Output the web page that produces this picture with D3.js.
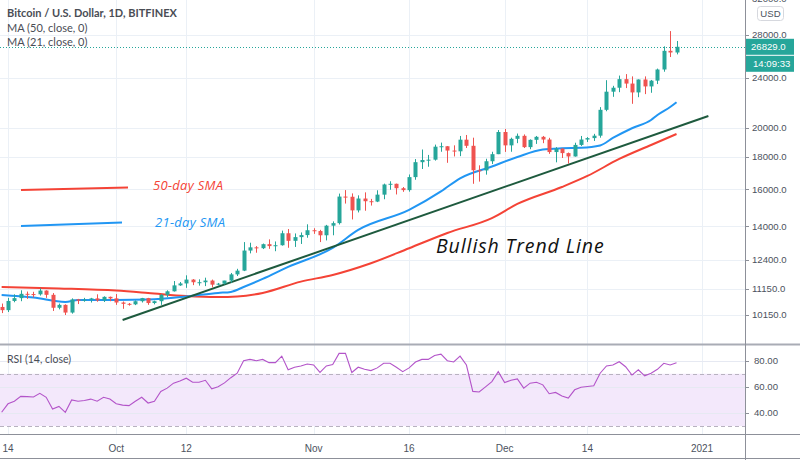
<!DOCTYPE html>
<html>
<head>
<meta charset="utf-8">
<script src="https://cdn.jsdelivr.net/npm/d3@7"></script>
<style>
  html, body { margin: 0; padding: 0; background: #fff; }
  svg { display: block; }
</style>
</head>
<body>
<svg id="chart" width="800" height="460"></svg>
<script>
// ---------------- DATA ----------------
const startDay = "2020-09-13";   // first candle
const endDay   = "2020-12-28";   // last candle (in progress)

const opens = [10450,10330,10680,10790,10960,10950,10940,11090,10920,10420,
10530,10240,10740,10690,10730,10780,10700,10840,10780,10620,
10570,10550,10670,10790,10600,10670,10920,11060,11300,11380,
11540,11430,11430,11500,11330,11370,11500,11760,11920,12820,
12970,12930,13120,13030,13070,13650,13280,13460,13560,13800,
13760,13550,14030,14160,15590,15580,14830,15480,15330,15310,
15700,16290,16330,16070,15960,16730,17660,17800,17820,18680,
18710,18420,18370,19160,18740,17150,17140,17720,18180,19700,
18770,19220,19430,18650,19150,19360,19170,18320,18550,18250,
18030,18800,19170,19270,19440,21350,22800,23130,23860,23480,
22740,23830,23240,23730,24710,26440,26280];

const highs = [10580,10800,10940,11100,11050,11040,11180,11100,10990,10580,
10550,10780,10760,10800,10800,10940,10860,10850,10950,10660,
10600,10700,10800,10800,10690,10950,11100,11480,11440,11720,
11560,11550,11620,11540,11400,11490,11820,12000,13220,13190,
13030,13150,13350,13250,13780,13860,13640,13690,14100,13900,
13820,14070,14250,15760,15960,15770,15660,15830,15460,15950,
16340,16480,16340,16140,16890,17860,18490,18130,18820,18960,
18720,18770,19420,19490,19300,17460,17880,18340,19840,19920,
19300,19590,19530,19180,19420,19420,19290,18650,18570,18290,
18950,19420,19340,19570,21560,23770,23290,24170,24300,24100,
23840,24100,23790,24790,26870,28400,27400];

const lows = [10220,10260,10630,10670,10760,10820,10890,10800,10300,10360,
10150,10200,10560,10650,10620,10650,10640,10670,10530,10380,
10500,10520,10620,10530,10550,10530,10830,11050,11280,11200,
11310,11290,11270,11220,11300,11340,11410,11690,11900,12690,
12720,12890,12900,12790,13050,12950,12990,13130,13430,13620,
13220,13300,13550,14090,15200,14350,14720,14810,15090,15280,
15440,15980,15710,15860,15870,16570,17230,17370,17760,18340,
17620,18030,18050,18590,16330,16460,16880,17540,18180,18330,
18340,18920,18590,18510,18870,18920,18200,17650,17930,17570,
18020,18730,19000,19070,19300,21240,22380,22760,23100,21820,
22350,22600,22710,23440,24510,25850,26100];

const closes = [10330,10680,10790,10960,10950,10940,11090,10920,10420,10530,
10240,10740,10690,10730,10780,10700,10840,10780,10620,10570,
10550,10670,10790,10600,10670,10920,11060,11300,11380,11540,
11430,11430,11500,11330,11370,11500,11760,11920,12820,12970,
12930,13120,13030,13070,13650,13280,13460,13560,13800,13760,
13550,14030,14160,15590,15580,14830,15480,15330,15310,15700,
16290,16330,16070,15960,16730,17660,17800,17820,18680,18710,
18420,18370,19160,18740,17150,17140,17720,18180,19700,18770,
19220,19430,18650,19150,19360,19170,18320,18550,18250,18030,
18800,19170,19270,19440,21350,22800,23130,23860,23480,22740,
23830,23240,23730,24710,26440,26280,26829];

// RSI(14) read per candle
const rsi = [40.5,47,49,52.7,52.5,52.2,55,52,43,45,
40.5,50,49,49.5,50.6,49,52,50.6,47,46,
45.6,49,52,47.6,49,56.5,59,62.8,64.5,66.6,
63.5,63.5,65,58.5,60,63,67,70.4,80,81,
80,81,78.5,78.5,83.5,73,75,76,77.5,76.7,
71,76,77,85.6,85.6,71,75,73.5,72.4,74.5,
78,78,75,71.6,74.5,79,81,81,84,85,
80,79,83.5,76.7,56.5,56,60,64,71.6,63.3,
65,66,59,62.8,63.5,61.5,54.7,55.7,53,51.4,
57.7,59.7,60.3,60.8,70.4,76,76.7,79.2,75.4,69,
73,68.4,70.4,73.4,78,76.7,78.5];

const ma21Idx = [0,5,10,12,18,23,29,34,36,38,41,45,52,56,64,69,72,77,81,85,88,91,94,96,99,102,103,105,106];
const ma21Val = [10917,10817,10643,10720,10720,10739,10856,10996,11036,11236,11567,12082,12942,13815,14855,15882,16660,17389,17996,18491,18573,18600,18760,19278,19970,20580,20956,21571,21950];

const ma50Idx = [0,9,18,23,29,34,37,41,47,52,58,64,70,77,81,88,92,97,102,106];
const ma50Val = [11236,11175,11088,10996,10875,10836,10856,10996,11455,11735,12244,12928,13664,14420,15180,16140,16800,17867,18797,19561];

// Trend line drawing (date, price)
const trendDates  = ["2020-10-02", "2021-01-02"];
const trendPrices = [9970, 20880];

const priceTicks = [32000, 28000, 24000, 20000, 18000, 16000, 14000, 12400, 11150, 10150];
const rsiTicks = [80, 60, 40];
const timeTickDates  = ["2020-09-14","2020-10-01","2020-10-12","2020-11-01","2020-11-16","2020-12-01","2020-12-14","2021-01-01"];
const timeTickLabels = ["14","Oct","12","Nov","16","Dec","14","2021"];

const lastPrice = 26829.0;
const countdown = "14:09:33";

// ---------------- CHART ----------------
const parse = d3.utcParse("%Y-%m-%d");
const days = d3.utcDay.range(parse(startDay), d3.utcDay.offset(parse(endDay), 1));
const candles = days.map((d, i) => ({date: d, o: opens[i], h: highs[i], l: lows[i], c: closes[i], r: rsi[i]}));

const svg = d3.select("#chart");
const W = 800, H = 460;
const axisX = 745;           // right price axis line
const mainBottom = 344;
const rsiTop = 345, rsiBottom = 434;

const x = d3.scaleUtc()
  .domain([parse("2020-09-14"), parse("2021-01-01")])
  .range([8, 702]);
const y = d3.scaleLog().domain([10150, 28000]).range([315, 35]);
const yr = d3.scaleLinear().domain([30, 80]).range([426, 360.7]);

const gridColor = "#ebf0f6";
const textColor = "#4c525e";
const green = "#26a69a", red = "#ef5350";

svg.append("rect").attr("width", W).attr("height", H).attr("fill", "#fff");

const defs = svg.append("defs");
defs.append("clipPath").attr("id", "clipMain").append("rect")
  .attr("x", 0).attr("y", 0).attr("width", axisX).attr("height", mainBottom);
defs.append("clipPath").attr("id", "clipRsi").append("rect")
  .attr("x", 0).attr("y", rsiTop).attr("width", axisX).attr("height", rsiBottom - rsiTop);

// vertical grid (both panes)
const tDates = timeTickDates.map(parse);
svg.append("g").selectAll("line").data(tDates).join("line")
  .attr("x1", d => Math.round(x(d)) + 0.5).attr("x2", d => Math.round(x(d)) + 0.5)
  .attr("y1", 0).attr("y2", rsiBottom)
  .attr("stroke", gridColor).attr("stroke-width", 1);

// horizontal price grid
svg.append("g").attr("clip-path", "url(#clipMain)").selectAll("line").data(priceTicks).join("line")
  .attr("x1", 0).attr("x2", axisX)
  .attr("y1", d => Math.round(y(d)) + 0.5).attr("y2", d => Math.round(y(d)) + 0.5)
  .attr("stroke", gridColor);

// RSI pane background band & grid
svg.append("rect").attr("x", 0).attr("width", axisX)
  .attr("y", yr(70)).attr("height", yr(30) - yr(70))
  .attr("fill", "#f3e8fb");
svg.append("g").selectAll("line").data(rsiTicks).join("line")
  .attr("x1", 0).attr("x2", axisX)
  .attr("y1", d => Math.round(yr(d)) + 0.5).attr("y2", d => Math.round(yr(d)) + 0.5)
  .attr("stroke", "#e6e9f2");
svg.append("g").selectAll("line").data([70, 30]).join("line")
  .attr("x1", 0).attr("x2", axisX)
  .attr("y1", d => Math.round(yr(d)) + 0.5).attr("y2", d => Math.round(yr(d)) + 0.5)
  .attr("stroke", "#b8b2c0").attr("stroke-dasharray", "4,3");

// current price dotted line
svg.append("line").attr("x1", 0).attr("x2", axisX)
  .attr("y1", Math.round(y(lastPrice)) + 0.5).attr("y2", Math.round(y(lastPrice)) + 0.5)
  .attr("stroke", green).attr("stroke-width", 1).attr("stroke-dasharray", "1,2");

const main = svg.append("g").attr("clip-path", "url(#clipMain)");

// MAs
const lineGen = d3.line().x(d => d[0]).y(d => d[1]).curve(d3.curveMonotoneX);
const ma50Pts = ma50Idx.map((k, j) => [x(days[k]), y(ma50Val[j])]);
const ma21Pts = ma21Idx.map((k, j) => [x(days[k]), y(ma21Val[j])]);
main.append("path").attr("d", lineGen(ma50Pts)).attr("fill", "none")
  .attr("stroke", "#f44336").attr("stroke-width", 2);
main.append("path").attr("d", lineGen(ma21Pts)).attr("fill", "none")
  .attr("stroke", "#2196f3").attr("stroke-width", 2);

// trend line
main.append("line")
  .attr("x1", x(parse(trendDates[0]))).attr("y1", y(trendPrices[0]))
  .attr("x2", x(parse(trendDates[1]))).attr("y2", y(trendPrices[1]))
  .attr("stroke", "#1e5a3e").attr("stroke-width", 2);

// candles
const bw = 4;
const cg = main.append("g").selectAll("g").data(candles).join("g");
cg.append("line")
  .attr("x1", d => Math.round(x(d.date)) + 0.5).attr("x2", d => Math.round(x(d.date)) + 0.5)
  .attr("y1", d => y(d.h)).attr("y2", d => y(d.l))
  .attr("stroke", d => d.c >= d.o ? green : red).attr("stroke-width", 1);
cg.append("rect")
  .attr("x", d => Math.round(x(d.date)) + 0.5 - bw / 2)
  .attr("width", bw)
  .attr("y", d => y(Math.max(d.o, d.c)))
  .attr("height", d => Math.max(1, Math.abs(y(d.o) - y(d.c))))
  .attr("fill", d => d.c >= d.o ? green : red);

// RSI line
svg.append("path").attr("clip-path", "url(#clipRsi)")
  .attr("d", d3.line().x(d => x(d.date)).y(d => yr(d.r))(candles))
  .attr("fill", "none").attr("stroke", "#b354c9").attr("stroke-width", 1.1);

// pane separators & axes
svg.append("line").attr("x1", 0).attr("x2", W).attr("y1", 344.5).attr("y2", 344.5)
  .attr("stroke", "#a9acb5").attr("stroke-width", 2);
svg.append("line").attr("x1", 0).attr("x2", W).attr("y1", rsiBottom + 0.5).attr("y2", rsiBottom + 0.5)
  .attr("stroke", "#8d9099").attr("stroke-width", 1);
svg.append("line").attr("x1", 0).attr("x2", W).attr("y1", 458.5).attr("y2", 458.5)
  .attr("stroke", "#8d9099").attr("stroke-width", 1);
svg.append("line").attr("x1", axisX + 0.5).attr("x2", axisX + 0.5).attr("y1", 0).attr("y2", H)
  .attr("stroke", "#8d9099").attr("stroke-width", 1);

// price axis
const axisFont = "Liberation Sans, Arial, sans-serif";
const pa = svg.append("g");
pa.selectAll("line").data(priceTicks).join("line")
  .attr("x1", axisX).attr("x2", axisX + 4)
  .attr("y1", d => Math.round(y(d)) + 0.5).attr("y2", d => Math.round(y(d)) + 0.5)
  .attr("stroke", "#8d9099");
pa.selectAll("text").data(priceTicks).join("text")
  .attr("x", 752).attr("y", d => y(d)).attr("dy", "0.35em")
  .attr("font-family", axisFont).attr("font-size", 9.6).attr("fill", textColor)
  .text(d => d3.format(".1f")(d));

// RSI axis
const ra = svg.append("g");
ra.selectAll("line").data(rsiTicks).join("line")
  .attr("x1", axisX).attr("x2", axisX + 4)
  .attr("y1", d => Math.round(yr(d)) + 0.5).attr("y2", d => Math.round(yr(d)) + 0.5)
  .attr("stroke", "#8d9099");
ra.selectAll("text").data(rsiTicks).join("text")
  .attr("x", 754).attr("y", d => yr(d)).attr("dy", "0.35em")
  .attr("font-family", axisFont).attr("font-size", 9.6).attr("fill", textColor)
  .text(d => d3.format(".2f")(d));

// USD badge
svg.append("rect").attr("x", 757.5).attr("y", 6.5).attr("width", 26).attr("height", 14).attr("rx", 3)
  .attr("fill", "#fff").attr("stroke", "#d6d8de");
svg.append("text").attr("x", 770.5).attr("y", 14).attr("dy", "0.35em").attr("text-anchor", "middle")
  .attr("font-family", axisFont).attr("font-size", 9.6).attr("fill", textColor).text("USD");

// last price label + countdown
svg.append("rect").attr("x", axisX + 1).attr("y", y(lastPrice) - 8).attr("width", 48).attr("height", 16).attr("fill", green);
svg.append("text").attr("x", 751).attr("y", y(lastPrice)).attr("dy", "0.35em")
  .attr("font-family", axisFont).attr("font-size", 9.6).attr("fill", "#fff").text(d3.format(".1f")(lastPrice));
svg.append("rect").attr("x", axisX + 1).attr("y", y(lastPrice) + 9).attr("width", 48).attr("height", 16).attr("fill", green);
svg.append("text").attr("x", 753).attr("y", y(lastPrice) + 17).attr("dy", "0.35em")
  .attr("font-family", axisFont).attr("font-size", 9.6).attr("fill", "#fff").text(countdown);

// time axis labels
svg.append("g").selectAll("text").data(tDates).join("text")
  .attr("x", d => x(d)).attr("y", 448).attr("dy", "0.35em").attr("text-anchor", "middle")
  .attr("font-family", axisFont).attr("font-size", 10).attr("fill", textColor)
  .text((d, i) => timeTickLabels[i]);

// header
const hdrFont = "Lato, 'Open Sans', sans-serif";
svg.append("text").attr("x", 7).attr("y", 13.5).attr("dy", "0.35em")
  .attr("font-family", hdrFont).attr("font-weight", "bold").attr("font-size", 11).attr("fill", "#4a4d55")
  .text("Bitcoin / U.S. Dollar, 1D, BITFINEX");
svg.append("text").attr("x", 7).attr("y", 28.5).attr("dy", "0.35em")
  .attr("font-family", hdrFont).attr("font-size", 11).attr("fill", "#4a4d55")
  .text("MA (50, close, 0)");
svg.append("text").attr("x", 7).attr("y", 42.5).attr("dy", "0.35em")
  .attr("font-family", hdrFont).attr("font-size", 11).attr("fill", "#4a4d55")
  .text("MA (21, close, 0)");
svg.append("text").attr("x", 7).attr("y", 359).attr("dy", "0.35em")
  .attr("font-family", hdrFont).attr("font-size", 10.5).attr("fill", "#4a4d55")
  .text("RSI (14, close)");

// annotations
svg.append("line").attr("x1", 21).attr("y1", 190).attr("x2", 128).attr("y2", 187.5)
  .attr("stroke", "#f44336").attr("stroke-width", 2);
svg.append("line").attr("x1", 21).attr("y1", 226).attr("x2", 122).attr("y2", 222.5)
  .attr("stroke", "#2196f3").attr("stroke-width", 2);
const annFont = "'Open Sans', 'DejaVu Sans', sans-serif";
svg.append("text").attr("x", 153).attr("y", 189.5)
  .attr("font-family", annFont).attr("font-style", "italic").attr("font-size", 13).attr("fill", "#f44336")
  .attr("letter-spacing", 0.3)
  .text("50-day SMA");
svg.append("text").attr("x", 155).attr("y", 226.5)
  .attr("font-family", annFont).attr("font-style", "italic").attr("font-size", 13).attr("fill", "#2196f3")
  .attr("letter-spacing", 0.3)
  .text("21-day SMA");
svg.append("text").attr("x", 436).attr("y", 253)
  .attr("font-family", annFont).attr("font-style", "italic").attr("font-size", 19.5).attr("fill", "#111")
  .attr("letter-spacing", 0.9)
  .text("Bullish Trend Line");
</script>
</body>
</html>
